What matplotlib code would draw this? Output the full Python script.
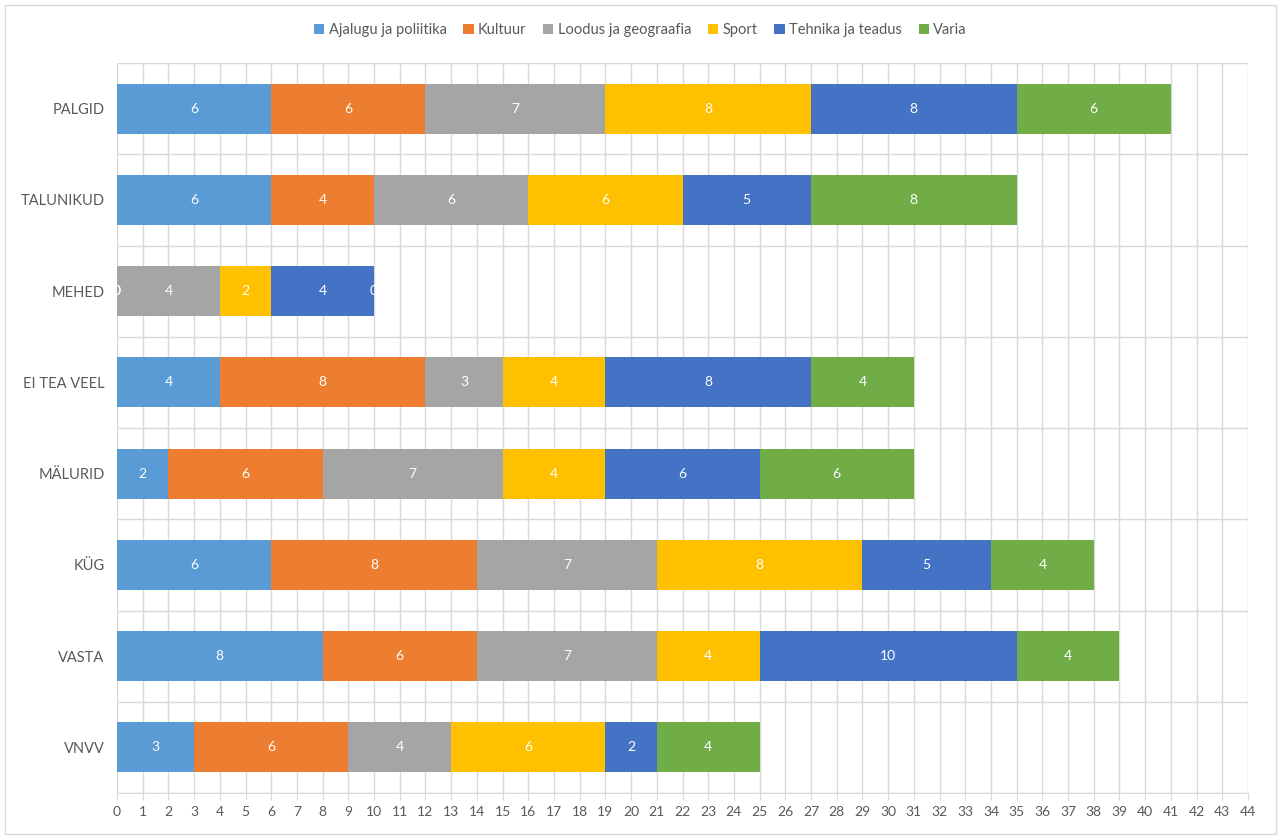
import numpy as np
import matplotlib.pyplot as plt
from matplotlib.patches import Rectangle

plt.rcParams['font.family'] = ['Lato', 'DejaVu Sans']

# categories, top to bottom as in the chart
teams = ['PALGID', 'TALUNIKUD', 'MEHED', 'EI TEA VEEL', 'MÄLURID', 'KÜG', 'VASTA', 'VNVV']
topics = ['Ajalugu ja poliitika', 'Kultuur', 'Loodus ja geograafia', 'Sport', 'Tehnika ja teadus', 'Varia']

ajalugu = [6, 6, 0, 4, 2, 6, 8, 3]
kultuur = [6, 4, 0, 8, 6, 8, 6, 6]
loodus = [7, 6, 4, 3, 7, 7, 7, 4]
sport = [8, 6, 2, 4, 4, 8, 4, 6]
tehnika = [8, 5, 4, 8, 6, 5, 10, 2]
varia = [6, 8, 0, 4, 6, 4, 4, 4]

colors = ['#5B9BD5', '#ED7D31', '#A5A5A5', '#FFC000', '#4472C4', '#70AD47']
series = [ajalugu, kultuur, loodus, sport, tehnika, varia]

fig = plt.figure(figsize=(12.81, 8.4), dpi=100)
ax = fig.add_axes([117 / 1281, 1 - 793 / 840, (1248 - 117) / 1281, (793 - 63) / 840])

y = np.arange(len(teams))
left = np.zeros(len(teams))
for vals, name, col in zip(series, topics, colors):
    bars = ax.barh(y, vals, left=left, height=0.55, color=col, label=name, zorder=3)
    ax.bar_label(bars, labels=[str(v) for v in vals], label_type='center',
                 color='white', fontsize=10, zorder=4)
    left += np.array(vals)

ax.set_xlim(0, 44)
ax.set_ylim(len(teams) - 0.5, -0.5)
ax.set_xticks(np.arange(0, 45, 1))
ax.set_yticks(y)
ax.set_yticklabels(teams, fontsize=10.5, color='#595959')
ax.tick_params(axis='y', length=0, pad=9)
ax.tick_params(axis='x', length=5, color='#D9D9D9', labelsize=10, labelcolor='#595959', pad=4)

# vertical gridlines and horizontal category separators
ax.grid(axis='x', color='#D9D9D9', linewidth=1, zorder=0)
for b in np.arange(-0.5, len(teams), 1):
    ax.axhline(b, color='#D9D9D9', linewidth=1, zorder=0)
for s in ['top', 'right', 'left']:
    ax.spines[s].set_visible(False)
ax.spines['bottom'].set_color('#D9D9D9')

fig.legend(loc='center', bbox_to_anchor=(0.5, 1 - 30 / 840), ncol=6, frameon=False,
           fontsize=10.5, handlelength=0.7, handleheight=0.7, handletextpad=0.3,
           columnspacing=1.15, labelcolor='#595959')

# chart border
fig.patches.append(Rectangle((5 / 1281, 1 - 834 / 840), 1271 / 1281, 829 / 840,
                             transform=fig.transFigure, fill=False,
                             edgecolor='#D9D9D9', linewidth=1))

fig.savefig('out.png', dpi=100)
